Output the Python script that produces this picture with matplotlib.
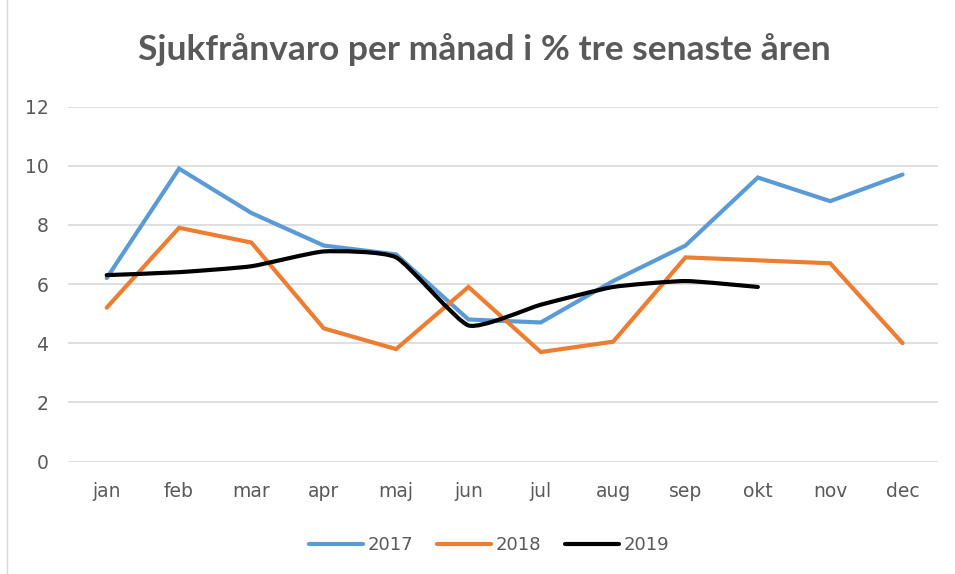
import numpy as np
import matplotlib
matplotlib.use("Agg")
from matplotlib import pyplot as plt
from matplotlib.path import Path
from matplotlib.patches import PathPatch
from matplotlib.lines import Line2D

months = ["jan", "feb", "mar", "apr", "maj", "jun", "jul", "aug", "sep", "okt", "nov", "dec"]
sick_2017 = [6.2, 9.9, 8.4, 7.3, 7.0, 4.8, 4.7, 6.1, 7.3, 9.6, 8.8, 9.7]
sick_2018 = [5.2, 7.9, 7.4, 4.5, 3.8, 5.9, 3.7, 4.05, 6.9, 6.8, 6.7, 4.0]
sick_2019 = [6.3, 6.4, 6.6, 7.1, 6.9, 4.6, 5.3, 5.9, 6.1, 5.9]

BLUE = "#5B9BD5"
ORANGE = "#ED7D31"
GREY_TXT = "#595959"

plt.rcParams["font.family"] = ["DejaVu Sans"]

fig = plt.figure(figsize=(9.55, 5.74), dpi=100)
ax = fig.add_axes([68 / 955, 1 - 461.5 / 574, (938 - 68) / 955, (461.5 - 106.5) / 574])

x = np.arange(len(months))
ax.plot(x, sick_2017, color=BLUE, lw=3, solid_capstyle="round", solid_joinstyle="miter")
ax.plot(x, sick_2018, color=ORANGE, lw=3, solid_capstyle="round", solid_joinstyle="miter")


# 2019 drawn as a lightly smoothed line (Excel "smoothed line")
def smooth_path(xs, ys, k=12.0):
    pts = np.column_stack([xs, ys]).astype(float)
    n = len(pts)
    verts = [pts[0]]
    codes = [Path.MOVETO]
    for i in range(n - 1):
        p0 = pts[max(i - 1, 0)]
        p1 = pts[i]
        p2 = pts[i + 1]
        p3 = pts[min(i + 2, n - 1)]
        c1 = p1 + (p2 - p0) / k
        c2 = p2 - (p3 - p1) / k
        verts += [c1, c2, p2]
        codes += [Path.CURVE4] * 3
    return Path(verts, codes)


x19 = np.arange(len(sick_2019))
ax.add_patch(PathPatch(smooth_path(x19, sick_2019), facecolor="none",
                       edgecolor="black", lw=3, capstyle="round", zorder=3))

ax.set_xlim(-0.535, 11.49)
ax.set_ylim(0, 12)
ax.set_yticks(range(0, 13, 2))
ax.set_xticks(x)
ax.set_xticklabels(months)
ax.tick_params(length=0, labelsize=13.5, labelcolor=GREY_TXT)
ax.tick_params(axis="x", pad=15)
ax.tick_params(axis="y", pad=14)
ax.grid(axis="y", color="#D9D9D9", lw=1.2)
ax.set_axisbelow(True)
for s in ax.spines.values():
    s.set_visible(False)

fig.text(484 / 955, 1 - 50 / 574, "Sjukfrånvaro per månad i % tre senaste åren",
         ha="center", va="center", fontsize=25.5, fontweight="bold", color=GREY_TXT,
         family=["Lato", "DejaVu Sans"])

handles = [Line2D([], [], color=BLUE, lw=3, solid_capstyle="round"),
           Line2D([], [], color=ORANGE, lw=3, solid_capstyle="round"),
           Line2D([], [], color="black", lw=3, solid_capstyle="round")]
fig.legend(handles, ["2017", "2018", "2019"], loc="center", bbox_to_anchor=(489 / 955, 1 - 545 / 574),
           ncol=3, frameon=False, fontsize=13, handlelength=3.0, handletextpad=0.25,
           columnspacing=1.3, labelcolor=GREY_TXT)

# thin chart-area border on the left
fig.add_artist(Line2D([7 / 955, 7 / 955], [0, 1], color="#D9D9D9", lw=1))

fig.savefig("out.png", dpi=100)
